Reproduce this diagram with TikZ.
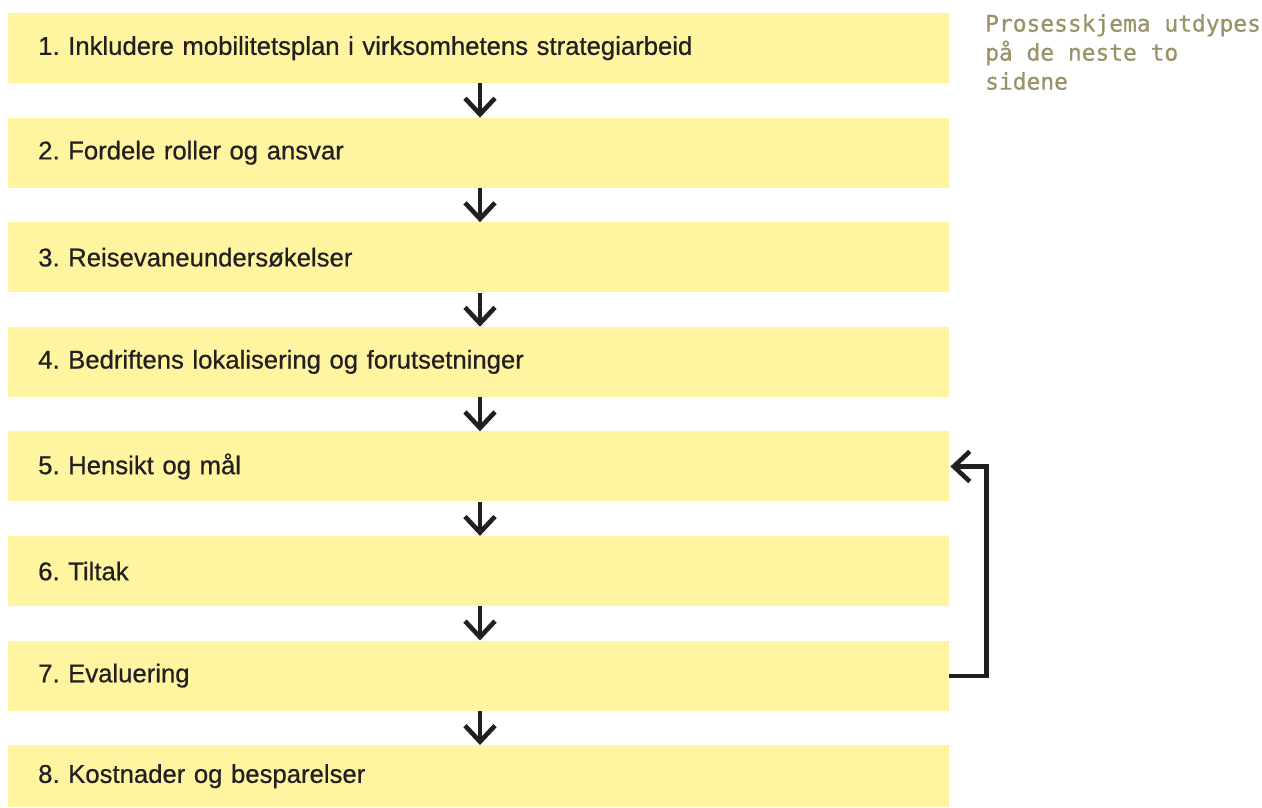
\documentclass[tikz,border=0pt]{standalone}
\usepackage{fontspec}
\setmainfont{Liberation Sans}[FakeBold=0.6]
\newfontfamily\mainfnt{Liberation Sans}[FakeBold=0.6]
\newfontfamily\monofnt{DejaVu Sans Mono}[FakeBold=0.8]
\usetikzlibrary{arrows.meta,positioning,calc}
\definecolor{boxyellow}{HTML}{FFF5A0}
\definecolor{inkdark}{HTML}{231F20}
\definecolor{olive}{HTML}{9C9269}
\tikzset{
  stepbox/.style={fill=boxyellow, draw=none, minimum width=941pt, minimum height=70pt,
    anchor=north west, inner xsep=30pt, inner ysep=0pt, text width=881pt, align=left,
    font=\mainfnt\fontsize{25.7}{30}\selectfont, text=inkdark},
  flowarrow/.style={draw=inkdark, line width=4.2pt, -{Straight Barb[length=16pt,width=30pt,line width=4.6pt]}},
}
\begin{document}
\frenchspacing
\begin{tikzpicture}[x=1pt,y=-1pt]
\useasboundingbox (0,0) rectangle (1262,807);
\foreach \i/\t in {1/{1. Inkludere mobilitetsplan i virksomhetens strategiarbeid},
                   2/{2. Fordele roller og ansvar},
                   3/{3. Reisevaneundersøkelser},
                   4/{4. Bedriftens lokalisering og forutsetninger},
                   5/{5. Hensikt og mål},
                   6/{6. Tiltak},
                   7/{7. Evaluering}}{
  \node[stepbox] (b\i) at (8, {13+104.57*(\i-1)}) {\frenchspacing\raisebox{-1.5pt}{\t}};
}
\node[stepbox, minimum height=62pt] (b8) at (8,745) {\frenchspacing\raisebox{-1.5pt}{8. Kostnader og besparelser}};
\foreach \i [evaluate=\i as \j using int(\i+1)] in {1,...,7}{
  \draw[flowarrow] ($(b\i.south west)+(472,0)$) -- ($(b\j.north west)+(472,0)$);
}
\draw[flowarrow] (b7.east) -- ++(37,0) |- ($(b5.east)+(1,0)$);
\node[anchor=north west, inner sep=0pt, align=left, text=olive,
      font=\monofnt\fontsize{22.9}{29}\selectfont] (note) at (985,14)
  {Prosesskjema utdypes\\på de neste to\\sidene};
\end{tikzpicture}
\end{document}
